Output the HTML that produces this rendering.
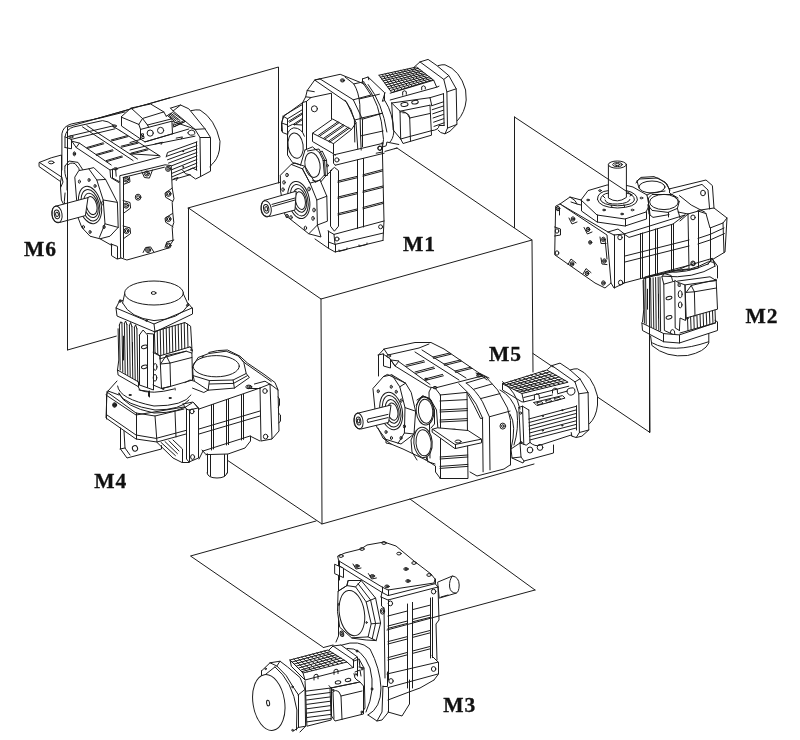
<!DOCTYPE html>
<html><head><meta charset="utf-8"><title>Mounting positions M1-M6</title>
<style>
html,body{margin:0;padding:0;background:#fff}
svg{display:block;will-change:transform}
svg path,svg ellipse{fill:none;stroke:#1c1c1c;stroke-width:1;stroke-linejoin:round;stroke-linecap:round}
svg .f{fill:#fff}
svg .w{fill:#fff;stroke:none}
svg text{font-family:"Liberation Serif","DejaVu Serif",serif;font-weight:bold;font-size:21.5px;letter-spacing:.9px;fill:#111;stroke:#111;stroke-width:.3px}
</style></head><body>
<svg width="800" height="740" viewBox="0 0 800 740">
<rect width="800" height="740" fill="#fff"/>
<g id="base">
<path d="M67.5 127L278.5 67L278.5 183M67.5 127L67.5 350L122 334.5M514.5 227.5L514.5 117M533 353.5L650 432.5L649 250M316 521L190.5 556L323.5 647.5M410 499L535 590M188 208L281 182M383 152L397 148L532 240L321 299L188.5 208L188.5 300M321 299L322 524L227 460M322 524L534 464M532 240L533 372"/>
</g>
<g id="m6">
<path class="w" d="M61.5 169L61.5 134.5L63.2 126.2L73 123.2L110.5 116.5L121 115L121 112.5L174.5 112.5L174.5 222.5L70 222.5L64 172Z"/>
<path class="w" d="M130 109.4L150.6 103.8L163.8 111.9L170.6 108.1L180.6 105L188.8 108.8L191.2 110.6L200 110L215 118.8L220 141.2L219.4 150L217.5 160L211.2 165L210 171.2L200.6 176.5L195.6 179L190 175L172.5 181.2L172.5 192.5L130 192.5Z"/>
<path class="w" d="M121 117L131 108L150.6 103.8L142.5 118.5L140.6 139L121 126Z"/>
<path d="M61.9 170 L61.9 133.8 Q63.1 126.2 71.2 124 L101.2 117.8 125 111.9M65 147.5 L65 136.9 Q66.2 128.8 73.8 126.9 L102.5 120.6 108.1 121.9 115 126.2M65 136.9L71.5 139.4L71.5 148.8L65 147.5M67.5 136.6L112.5 126L120 130.6M71.2 139.4L115 128.8M71.9 141.2L79.4 143.1L76.2 147.5L71.9 141.2M71.2 139.4L71.9 141.2M76.2 147.5L110 170L115.6 168.8L160 156.9M79.4 143.1L111.2 165M95.6 135.6L133.1 160.6M100 134.4L137.5 159M82.5 126.9L95.6 135.6M86.9 125.6L100 134.4M120 130.6L160 156M86.9 147.5L103.1 142.8M87.2 148.5L103.8 143.8M96.2 154.4L112.5 149.8M96.6 155.4L113.1 150.8M106.2 160.6L121.9 156M106.6 161.6L122.5 157M111.2 140L127.5 135.6M111.6 141L128.1 136.6M121.2 146.2L137.5 142.2M121.6 147.2L138.1 143.2M131.2 153.1L147.5 148.8M131.6 154.1L148.1 149.8"/>
<ellipse stroke-width="0.75" cx="71.2" cy="136.9" rx="1.8" ry="1"/>
<ellipse stroke-width="0.75" cx="114.4" cy="126" rx="2" ry="1.1"/>
<ellipse stroke-width="0.75" cx="115.6" cy="168.8" rx="2" ry="1.1"/>
<ellipse stroke-width="0.75" cx="74.4" cy="153.8" rx="1.2" ry="2"/>
<ellipse stroke-width="0.75" cx="74.4" cy="153.8" rx="0.6" ry="1"/>
<path d="M110 170L110.6 177.5L118.8 182.5M115.6 168.8L116.2 176.2M131 108L150.6 104L163.8 111.9L166.2 116.2M138.8 124.4L142.5 118.5L147.5 125M142.5 118.5L163.8 111.9M147.5 125L171.9 118.8M138.8 124.4L121 117L131 108L142.5 118.5M121.5 117L121.5 126L140.6 139M140.6 129.4L171.9 121.2L172.5 133.8L145 141.9L140.5 139L140.5 129.4M138.8 124.4L140.6 129.4M147.5 125L148.8 127.5"/>
<ellipse stroke-width="0.75" cx="150.2" cy="133.1" rx="3.1" ry="3.1"/>
<ellipse stroke-width="0.75" cx="160.6" cy="130.4" rx="3.1" ry="3.1"/>
<path d="M141.9 133.8L143.5 133.8L143.5 135.6L141.9 135.6ZM142.2 136.5L144 136.5L144 138.5L142.2 138.5ZM166.2 116.2L172.5 112.5L185 121.5L173.8 126.9L173.1 123.8M167.5 115.6L174.4 121.2M168.8 115L176 120.8M170 114.2L177.8 120.2M171.2 113.5L179.5 120M173.8 126.9L185 121.5M174 125L182.5 121.5M174.2 123.1L180 121M170 116.9L171.2 118.8M171.9 121.2L188.8 126.9L195 129.4M187.8 132.8 Q188.8 130 191.9 130 Q195.2 130.6 195 133.5 Q193.8 135.6 190.6 135.2 Q188.1 134.8 187.8 132.8M130 142.5L140.6 139.4M130 150L145 146.2L195 136.2M145 141.9L172.5 133.8M172.5 133.8L188.8 129M130 153.8L158.8 155.6M155 144L162.5 142.2L161.2 144.4M176.2 138.1L182.5 136.9L181.2 139M166.2 156.9L167.5 152.5L196.9 141.9M166.9 156.2L196.9 145.6M167.5 159.8L196.9 149M168.5 163.1L196.9 152.5M169.8 166.5L196.9 156M171 170L196.9 159.5M171.5 173.5L196.9 163.1M171.9 176.9L196.9 166.5M171.9 180L190 174.8M196.5 141.9L196.5 170M182.5 170L185.6 173.8L190 174.8M188.8 170L192.5 168.1L196.9 170"/>
<ellipse stroke-width="0.75" cx="183.1" cy="151.2" rx="0.5" ry="0.5"/>
<ellipse stroke-width="0.75" cx="183.1" cy="166.9" rx="0.5" ry="0.5"/>
<path d="M173.8 178.8L178.1 177.5L176.2 180.6M170.6 108.1L180.6 105L188.8 108.8L205 128.8L210.5 137.5L210.5 171.2L200.6 176.5L195.6 179L190 175M170.6 108.1L173.1 111L195 129.4L200 137.5L200.6 176.5M173.1 111L180.6 105M200 137.5L210 137.5M195 129.4L205 128.8M191.2 110.6 Q196.2 109.4 200 110 Q215 118.8 220 141.2 L219.4 150 Q217.5 160 211.2 165 L210 166.9M112.5 169L112.5 178L120 182"/>
<path class="f" d="M120.2 175.6L165 164.8L171.2 165.6L172.2 188.1L174 198.8L172.2 202.5L172.8 213.1L173.8 222.5L172.2 227.5L173 240.6L168.1 248.1L153.8 252.5L126.9 260L121 258Z"/>
<path d="M123.5 177.5L123.5 257.5M123.1 177.5L164.4 167.2"/>
<ellipse stroke-width="0.75" cx="126.2" cy="179.4" rx="2.5" ry="2.6"/>
<ellipse stroke-width="0.75" cx="126.2" cy="179.4" rx="1.2" ry="1.4"/>
<ellipse stroke-width="0.75" cx="126.2" cy="205.6" rx="2.5" ry="2.6"/>
<ellipse stroke-width="0.75" cx="126.2" cy="205.6" rx="1.2" ry="1.4"/>
<ellipse stroke-width="0.75" cx="126.5" cy="231" rx="2.5" ry="2.6"/>
<ellipse stroke-width="0.75" cx="126.5" cy="231" rx="1.2" ry="1.4"/>
<ellipse stroke-width="0.75" cx="146.9" cy="173.5" rx="2.5" ry="2.6"/>
<ellipse stroke-width="0.75" cx="146.9" cy="173.5" rx="1.2" ry="1.4"/>
<ellipse stroke-width="0.75" cx="168.1" cy="168.8" rx="2.5" ry="2.6"/>
<ellipse stroke-width="0.75" cx="168.1" cy="168.8" rx="1.2" ry="1.4"/>
<ellipse stroke-width="0.75" cx="168.5" cy="193.8" rx="2.5" ry="2.6"/>
<ellipse stroke-width="0.75" cx="168.5" cy="193.8" rx="1.2" ry="1.4"/>
<ellipse stroke-width="0.75" cx="168.5" cy="219" rx="2.5" ry="2.6"/>
<ellipse stroke-width="0.75" cx="168.5" cy="219" rx="1.2" ry="1.4"/>
<ellipse stroke-width="0.75" cx="168.5" cy="245.6" rx="2.5" ry="2.6"/>
<ellipse stroke-width="0.75" cx="168.5" cy="245.6" rx="1.2" ry="1.4"/>
<ellipse stroke-width="0.75" cx="148.1" cy="250" rx="2.5" ry="2.6"/>
<ellipse stroke-width="0.75" cx="148.1" cy="250" rx="1.2" ry="1.4"/>
<ellipse stroke-width="0.75" cx="138.1" cy="197.2" rx="2.8" ry="3"/>
<ellipse stroke-width="0.75" cx="138.1" cy="197.2" rx="1.4" ry="1.5"/>
<path d="M123.1 200.6L130 202.5L130.6 208.1L123.8 213.1M123.1 226L130 227.9L130.6 233.5L123.8 238.5M172.2 188.1L165 193.1L165.6 197.2L172.8 201.5M172.5 213.5L165 218.1L165.6 222.2L173.1 226.9M141.9 171.9L144.4 177.5L149.4 178.1L152.5 170M143.1 252.5L145.6 247.5L150.6 246.9L153.8 251.9M123.5 184.4L130 181.9L129.4 176.9M173.8 240L166.9 241.9L165 247.5"/>
<path class="f" d="M39.4 162.4L51.2 157.8L61.5 155L61.5 177.2L60.6 181.6L39.4 166.8Z"/>
<path d="M39.4 162.4L61.8 177.2"/>
<ellipse stroke-width="0.75" cx="51.2" cy="162.4" rx="2.8" ry="1.4"/>
<path d="M60.5 181.6L60.5 187.6L61.4 200L64 205M61.8 177.2L63 182L60.6 187.6M65 166L69 161L78 162.4L83 170M65 166 Q64 174 67 180 L67 190M68 165 Q70 162 75 163.6 Q80 168 80 173M65 193 Q63 202 66 210"/>
<path class="f" d="M75 176.8L78.8 170.6L88.8 168.8L93.8 167.6L105.6 179.4L117.4 202.4L118.2 227.4L110 236.2L100 238.8L90 236.2L81.8 227.4L78.2 218Z"/>
<path d="M88.8 168.8L96.8 180L103.2 200L105 223.8L99.4 237.4M96.8 180L105.6 179.4M103.2 200L117.4 202.4M105 223.8L118.2 227.4"/>
<ellipse cx="90" cy="205" rx="11" ry="19" transform="rotate(-14 90 205)"/>
<ellipse cx="90.4" cy="205.2" rx="9" ry="16" transform="rotate(-14 90.4 205.2)"/>
<ellipse cx="91" cy="205.4" rx="7" ry="12.4" transform="rotate(-14 91 205.4)"/>
<ellipse cx="91.6" cy="205.6" rx="5.2" ry="9.2" transform="rotate(-14 91.6 205.6)"/>
<path class="f" d="M55 206.4 L88 197.6 L85.4 215.6 L60 222.4 Q52 223 52 214.4 Q52 207 55 206.4Z"/>
<ellipse cx="57" cy="214.4" rx="5" ry="8.4" transform="rotate(-10 57 214.4)"/>
<ellipse cx="57" cy="214.4" rx="2.6" ry="4.4" transform="rotate(-10 57 214.4)"/>
<ellipse stroke-width="0.75" cx="57" cy="214.4" rx="1.4" ry="2.2" transform="rotate(-10 57 214.4)"/>
<ellipse stroke-width="0.75" cx="79.4" cy="181.6" rx="1" ry="1.6"/>
<ellipse stroke-width="0.75" cx="89" cy="180" rx="1" ry="1.6"/>
<ellipse stroke-width="0.75" cx="95" cy="186" rx="1" ry="1.6"/>
<ellipse stroke-width="0.75" cx="102.6" cy="203" rx="1" ry="1.8"/>
<ellipse stroke-width="0.75" cx="104" cy="227" rx="1" ry="1.8"/>
<ellipse stroke-width="0.75" cx="90" cy="232" rx="1" ry="1.6"/>
<ellipse stroke-width="0.75" cx="83.4" cy="227" rx="1" ry="1.6"/>
<path d="M100 238.8L112 245.6M111 244L117.5 246.4L117.5 259L121 258M111.5 244L111.5 255.6L117 259"/>
</g>
<g id="m1">
<path class="w" d="M281.5 131L281.5 122.7L284 116L302.7 102.5L305.7 96.8L307.2 90.5L314.7 80L340.2 74.3L363.5 83.7L371 94.5L394.5 94.5L394.5 175.5L281 175.5Z"/>
<path class="w" d="M355 80.5L363.2 79L368.5 76.7L379 75.2L416.5 67L415 66.2L428.5 59.5L436.7 64.5L451 64.5L466.7 97L466 106L458.5 121L454.7 125.5L445 133L439 130L431.5 135.2L403 143.5L391 142.7L383.5 151L355 157Z"/>
<path class="w" d="M280.6 176L290 164.4L303 166L315 150L383 142L384 233L383 240.4L335 252.4L328 248.4L315 239.6L302 231.6L285 218.4Z"/>
<path d="M281.5 131L281.5 122.7L284 116L302.7 102.5L305.7 96.8L307.2 90.5L314.7 80L340.2 74.3L363.5 83.7L371 95M315.2 80.4L346.7 102.2L356 122.7L357.8 149M320 78.9L353.3 99.8L362.5 119.3L362.5 146.7M314.7 80L320 78.9M353.3 99.8L371 95M362 119.3L382.2 113.3"/>
<ellipse stroke-width="0.75" cx="342.5" cy="80.4" rx="2.1" ry="1.6"/>
<ellipse stroke-width="0.75" cx="342.5" cy="80.4" rx="1" ry="0.7"/>
<path d="M302.5 102.5L302.5 131.7M306.5 101.4L306.5 149M302.7 102.5L306.5 101.4L311 97.5L331.5 93.2L331.5 119M305.7 96.8L311 97.5M307.2 90.5L314.3 91.7"/>
<ellipse stroke-width="0.75" cx="314.4" cy="108.8" rx="3" ry="3"/>
<path d="M312.5 133.2L332.7 119L351.5 129.5L333.5 143.7L312.5 133.2L312.5 141.5L333.5 153.8L333.5 143.7M351.5 129.5L356 122.7M318.5 135.2L338 121.7M319.7 136.1L339.2 122.6M323.7 138.2L343.2 124.7M324.9 139.1L344.4 125.6M328.5 141.2L348 127.4M329.7 142.1L349.2 128.3M333.5 153.8L335.3 155.3M283.8 115.6L301.9 104.8M283.1 116.2L281.9 123.1L282.5 132.5L287.5 134.4L287.5 125L281.9 123.1M283.1 116.2L287.5 118.8L287.5 125M287.5 118.8L301.9 110M288.8 121.2L301.9 113.1M289.5 122.2L301.9 114.4M293.8 124L301.9 118.8M294.5 125L301.9 120M287.5 126.9L292.5 124.4L301.9 125M287.5 134.4L287.5 155L292.5 162.5L300.6 165M287.5 135 Q288.1 129.4 293.8 127.8 Q301.9 128.1 304.4 136.2"/>
<ellipse class="f" cx="295.6" cy="145.6" rx="7.5" ry="12.8" transform="rotate(-8 295.6 145.6)"/>
<path d="M305 150 L312.5 146.9 L319.4 152.5 L323.1 160 L324.4 175 L318.1 181.9 L312.5 180.2M319.4 152.5L322.2 151L326.5 160L327.5 175.5L324.4 175.5M323.1 160.5L326.5 160.5M300.6 165L305 150"/>
<ellipse class="f" cx="312.5" cy="165" rx="7.5" ry="12.5" transform="rotate(-10 312.5 165)"/>
<path d="M318.1 181.9L320 186.2"/>
<ellipse stroke-width="0.75" cx="327.5" cy="165.6" rx="0.9" ry="1.2"/>
<path d="M333.2 155L383 143.3M335.3 165.2L384.2 153.2M333.5 155L333.5 163.2L335.3 165.2"/>
<ellipse stroke-width="0.75" cx="336.9" cy="159.9" rx="2.1" ry="2.1"/>
<ellipse stroke-width="0.75" cx="380" cy="148.4" rx="2.1" ry="2.1"/>
<path d="M345 77 L353.8 83.9 Q358.8 92 359.8 104.5 L360.6 137 L361.2 150.1M353.8 83.9L363.8 81.8M359.4 98.9L379.4 94.2M360.6 118.2L382.5 113.2M361.2 135.8L383.1 131M345 100.1 Q352.5 109.5 354.4 120.1 L354.8 142M354.4 120.1L360.6 118.5M363.8 82 Q381.2 102 383.5 139.5 L382.5 147M368.1 84.5 Q382.5 103.2 386.9 132M385 100.8 Q393.1 113.2 393.8 132 Q393.1 139.5 389.4 142.6M362.5 78.9L368.1 77L384.5 92.6L384.5 100.8L382.5 101M362.5 78.9L362.5 82.6L363.8 84.5M368.1 77L368.8 79.8M382.5 101L385 92.6M382.5 147L386.2 145.8L386.9 142L389.4 142.6L398.8 144.5M382.5 147L382.5 152L376.2 153.2"/>
<ellipse stroke-width="0.75" cx="379.8" cy="148" rx="2" ry="2.1"/>
<path d="M379 75.2L416.5 67L433 79.7L391.7 92.5L379 75.2M390.2 93.2L433.7 80.2M390.2 100L436.7 87.2L439 86.2M433.7 80.2L436.7 87.2M380.3 77.2L418.3 68.3M381.8 79.1L420.1 69.8M383.2 80.9L422 71.2M384.7 82.9L423.8 72.7M386 84.8L425.6 74M387.5 86.8L427.4 75.5M388.9 88.6L429.4 76.9M390.4 90.5L431.2 78.4M382.1 74.5L395.2 91.4M385.3 73.9L398.6 90.4M388.3 73.1L402.1 89.3M391.4 72.5L405.5 88.3M394.6 71.8L409 87.2M397.7 71.2L412.3 86.2M400.9 70.4L415.7 85M404 69.7L419.2 83.9M407.2 69.1L422.6 82.9M410.2 68.3L426.1 81.8M413.3 67.7L429.5 80.8M402.7 95.2 L402.7 91.7 Q404.5 89.8 406.3 91.7 L406.3 94.3M421.7 89.8 L421.7 86.8 Q423.5 84.7 425.3 86.8 L425.3 88.9M391.7 103L430 97.7L431.8 105.7M391.7 103L400 111.2L430 105.2M400 111.2L400.7 139L403 143.5L431.5 135.2L430 105.2M391.7 103L393.2 130L400.7 139M402.7 112.7 Q409 112 409.7 118 L410.5 141.2M400 112 Q406 109.7 409.7 118M409.7 118L430 113.5M400.7 139L409 136.7L431.5 130.7"/>
<ellipse cx="404.5" cy="104.5" rx="3.6" ry="1.9" transform="rotate(-8 404.5 104.5)"/>
<ellipse cx="415" cy="102.2" rx="3.3" ry="1.8" transform="rotate(-8 415 102.2)"/>
<path d="M430 97.7L443.5 93.7M431.8 105.7L443.5 101.8M432.2 109.7L443.5 106M432.7 113.8L443.5 110.2M433.1 118L443.5 114.4M433.6 122.2L443.8 118.6M434 126.4L444.1 122.8M431.5 130.7 Q439 130 439 125.5 L444.1 125.5M443.5 93.7L444.1 125.5M414.4 66.9L420 61.9L428.1 59.4L436.9 65.6L448.8 75.6L456.2 88.8L456.9 124.4L450 131.2L445 133.8L440.6 132.5L438.1 130M420 61.9L443.8 79.4L446.9 91.9L447.5 128.1L445 133.8M443.8 79.4L448.8 75.6M446.9 91.9L456.2 88.8M447.5 128.1L456.9 124.4M438.1 65.6 Q442.5 64.4 445 64.8 Q460 70 465.6 90 L466.2 100 Q465 112.5 457.5 120.6M307.4 151L319 149L324.6 160L325.4 176.4L319.4 183.6L315 182.4M325.4 176.4L332 170M330.6 170.6L334.4 167.4L338.5 170.6L338.5 226.2L334.4 231.2L330.5 226.2L330.5 170.6M357.5 160L357.5 228.4M363.5 158.4L363.5 227M382.2 142.4L384 221L383 240.4M338 181L357 176.4M338 182.4L357 177.8M338 197L357 192.4M338 198.4L357 193.8M338 213.6L357 209M338 215L357 210.4M363 174.8L382.6 169.6M363 176.2L382.6 171M363 191L383 186M363 192.4L383 187.4M363 207.4L383.4 202M363 208.8L383.4 203.4M328 231L334 234.4L384 221M328.5 231L328.5 242L335 244.4L383.4 233M334 234.4L335 244.4"/>
<ellipse stroke-width="0.75" cx="337" cy="239" rx="2" ry="2"/>
<ellipse stroke-width="0.75" cx="380.6" cy="226.8" rx="2" ry="2"/>
<path d="M315 239L328 248L335 252L383 240.4M328.5 242L328.5 248M335.5 244.4L335.5 252M339 250L339 251.4L347 249.4L347 248M359 245L359 246.4L367 244.4L367 243"/>
<path class="f" d="M280.6 175L291.2 164.4L302.4 168.8L310 183.2L320 180L326.8 196.2L327.4 221.2L317.4 225L321 237L308.8 233.8L285 215L280.6 191.2Z"/>
<path d="M302.4 168.8L310 183.2L316.8 200L317.4 225L308.8 233.8M316.8 200L326.8 196.2M291.2 164.4L295 163L305 166.4L315 182.4L320 180M302.4 168.8L305 166.4"/>
<ellipse cx="298.8" cy="200" rx="10.6" ry="18.8" transform="rotate(-12 298.8 200)"/>
<ellipse cx="299.2" cy="200.2" rx="8.6" ry="16" transform="rotate(-12 299.2 200.2)"/>
<ellipse cx="299.8" cy="200.4" rx="6.6" ry="12" transform="rotate(-12 299.8 200.4)"/>
<ellipse cx="300.4" cy="200.6" rx="4.8" ry="9" transform="rotate(-12 300.4 200.6)"/>
<path class="f" d="M264.4 200.4 L296.2 191.2 L295 210 L271.2 216.2 Q261 218 261 208.8 Q261.4 201.2 264.4 200.4Z"/>
<ellipse cx="266.2" cy="208.8" rx="5" ry="8.2" transform="rotate(-10 266.2 208.8)"/>
<ellipse cx="266.2" cy="208.8" rx="2.6" ry="4.4" transform="rotate(-10 266.2 208.8)"/>
<ellipse stroke-width="0.75" cx="266.2" cy="208.8" rx="1.4" ry="2.2" transform="rotate(-10 266.2 208.8)"/>
<path d="M272 204.4L295 198M272.6 206.4L295 200"/>
<ellipse stroke-width="0.75" cx="287" cy="175" rx="1.2" ry="1.8"/>
<ellipse stroke-width="0.75" cx="284" cy="182.4" rx="1.2" ry="1.8"/>
<ellipse stroke-width="0.75" cx="283" cy="189.6" rx="1.2" ry="1.8"/>
<ellipse stroke-width="0.75" cx="309" cy="189" rx="1.2" ry="2"/>
<ellipse stroke-width="0.75" cx="314" cy="210" rx="1.2" ry="2"/>
<ellipse stroke-width="0.75" cx="313" cy="218.4" rx="1.2" ry="2"/>
<ellipse stroke-width="0.75" cx="305.4" cy="228" rx="1.2" ry="1.8"/>
<ellipse stroke-width="0.75" cx="291" cy="217.4" rx="1.2" ry="1.8"/>
<ellipse stroke-width="0.75" cx="287" cy="216" rx="1.2" ry="1.8"/>
</g>
<g id="m2">
<path class="w" d="M555 255L556 206L560 204L570 197L581 200L588 190.6L607 185L608.4 164.6L613 161.5L622 161.5L626.4 164.6L627 185L637 181L641 177.4L654 176.6L665 182L705.5 171L705.5 303.5L643.5 303.5L643.5 278L614 288.5L605 288.5Z"/>
<path class="w" d="M642 272L712 258L718.5 266L718.5 334L708 340L706 350L694 356.4L670 362L653 350L651 341L642 334Z"/>
<path class="f" d="M608.4 164.6 L608.4 198 Q617.4 204 626.4 197.4 L626.4 164.6Z"/>
<ellipse class="f" cx="617.4" cy="164.6" rx="9" ry="3.6"/>
<ellipse cx="617.4" cy="164.6" rx="4.8" ry="2"/>
<ellipse stroke-width="0.75" cx="617.4" cy="164.6" rx="2.4" ry="1"/>
<path d="M597.4 199.4 Q597.4 191.4 608.4 190.6M626.4 190.6 Q637.4 193 637.4 200 Q636 207.4 617.4 208 Q599 207.4 597.4 199.4M600.4 199.8 Q601 194 608.4 193M626.4 193 Q634.4 194.6 634.4 200 Q633 205.4 617.4 205.8 Q602 205 600.4 199.8M605 200 Q606 204.6 617.4 204 Q629 203.4 630 199.4M603 196L605 198M630 196L632 194.6M611 205L612 207M624 204.6L624.6 206.6M581 200L588 190.6L607 185L608.4 185M626.4 185.4L633 187L647 195L649 206L646 212L625 219L597 215L581 200M581.5 200L581.5 211L597 222L625 226L646.5 219L646.5 212M597.5 215L597.5 222M625.5 219L625.5 226"/>
<ellipse stroke-width="0.75" cx="588" cy="200" rx="1.4" ry="0.8"/>
<ellipse stroke-width="0.75" cx="600" cy="190.6" rx="1.4" ry="0.8"/>
<ellipse stroke-width="0.75" cx="604" cy="210" rx="1.4" ry="0.8"/>
<ellipse stroke-width="0.75" cx="622" cy="214" rx="1.4" ry="0.8"/>
<ellipse stroke-width="0.75" cx="632.4" cy="210" rx="1.4" ry="0.8"/>
<ellipse stroke-width="0.75" cx="641.4" cy="198" rx="1.4" ry="0.8"/>
<ellipse cx="652" cy="187" rx="13" ry="6"/>
<path d="M637 181L641 177.4L654 176.6L665 182L670 190M637 181L639 188"/>
<ellipse cx="664" cy="202" rx="14.4" ry="7.6"/>
<path d="M647 195L651 193L665 191M649 206L650 215L653 217.4L669 214.6M560 204L570 197L581 200M570 197L575 200.6L577 204M571 202L577 204L581 205M560 204L608 232"/>
<path class="f" d="M556 206L560 204L607 235L611 283L605 288L595 283L555 255Z"/>
<path d="M559.5 208.6L559.5 215M605 239L607 259"/>
<ellipse stroke-width="0.75" cx="558" cy="208.6" rx="1.8" ry="2.2"/>
<ellipse stroke-width="0.75" cx="573" cy="219" rx="1.8" ry="2.2"/>
<ellipse stroke-width="0.75" cx="588" cy="229.4" rx="1.8" ry="2.2"/>
<ellipse stroke-width="0.75" cx="603.4" cy="239.4" rx="1.8" ry="2.2"/>
<ellipse stroke-width="0.75" cx="557" cy="231" rx="1.8" ry="2.2"/>
<ellipse stroke-width="0.75" cx="557" cy="253" rx="1.8" ry="2.2"/>
<ellipse stroke-width="0.75" cx="572" cy="264" rx="1.8" ry="2.2"/>
<ellipse stroke-width="0.75" cx="587" cy="273.4" rx="1.8" ry="2.2"/>
<ellipse stroke-width="0.75" cx="603.4" cy="283" rx="1.8" ry="2.2"/>
<ellipse stroke-width="0.75" cx="604.4" cy="261" rx="1.8" ry="2.2"/>
<ellipse stroke-width="0.75" cx="558" cy="208.6" rx="0.8" ry="1"/>
<ellipse stroke-width="0.75" cx="573" cy="219" rx="0.8" ry="1"/>
<ellipse stroke-width="0.75" cx="588" cy="229.4" rx="0.8" ry="1"/>
<ellipse stroke-width="0.75" cx="603.4" cy="239.4" rx="0.8" ry="1"/>
<ellipse stroke-width="0.75" cx="572" cy="264" rx="0.8" ry="1"/>
<ellipse stroke-width="0.75" cx="587" cy="273.4" rx="0.8" ry="1"/>
<ellipse stroke-width="0.75" cx="603.4" cy="283" rx="0.8" ry="1"/>
<ellipse stroke-width="0.75" cx="604.4" cy="261" rx="0.8" ry="1"/>
<ellipse stroke-width="0.75" cx="590.2" cy="242.4" rx="1.6" ry="1.8"/>
<ellipse stroke-width="0.75" cx="590.2" cy="242.4" rx="0.8" ry="1"/>
<path d="M569 218L572 224L577 222M584 227.4L587.4 234L592 232M600 237L601 243.5L606 243.5M601 258L602 264L607 264.6M568 264.6L571 259L576 263M583 274L586 268.6L591 272.6M554.6 227L560.5 229L560.5 235L554.6 236M608 232L618 229L624.5 234L624.5 283L614 288L611 283M614.5 235L614.5 288M614 235L624 234M608 232L614 235"/>
<ellipse stroke-width="0.75" cx="620" cy="237.4" rx="2.2" ry="2.4"/>
<ellipse stroke-width="0.75" cx="620.6" cy="282.6" rx="2.2" ry="2.4"/>
<path d="M624 234L685 215M624 234L629 237.4L673 224L685 215M625 256L689 240M625 262L689 246M640.5 233.4L640.5 278.6M642.5 233L642.5 278M655.5 229L655.5 274.6M657.5 228.6L657.5 274.2M671.5 224.6L671.5 270.6M673.5 224L673.5 270.2M624 283L643 278L673 270.6L688 269M648.5 205L648.5 198L652 194.5L672.4 194.5L679.4 201L677.4 208.4L668 212.4L652 210.4L648 205M648 205L649 214M668.5 212.4L668.5 217M677.4 208.4L680 218M636 183L639 179L658 178L667 184L669 189M669 189L706 180L712.4 185.6L714 208M673 193L702 184.4L708 190L709.6 209M669.5 189L669.5 193L678 198"/>
<ellipse stroke-width="0.75" cx="703" cy="193" rx="2.4" ry="2.8"/>
<path d="M698 210.4L714 208L727 218L725 252L710 261L708 264.4M706 213.6L710 228L723 223L727 218M710.5 228L710.5 261M723 223L724 252.4M698 238.4L710 234.4L724 228M698 244L710 240L724.4 233.6M688 214L698.5 211L698.5 268L689 270L688 214"/>
<ellipse stroke-width="0.75" cx="693" cy="217.4" rx="2.2" ry="2.4"/>
<ellipse stroke-width="0.75" cx="693" cy="263.4" rx="2.2" ry="2.4"/>
<path d="M680 221L688 214M678 212L688 214M698 211L706 213.6M645 277 L688 265.6 L712 258.4M649 276 Q668 275 688 265.6M666 272 Q686 274 708 264M708 264L712 258.4L717.5 266L717.5 278M712 258.4L715 264"/>
<ellipse stroke-width="0.75" cx="693.4" cy="263.6" rx="1.8" ry="1.8"/>
<path d="M643.1 280.5L643.8 309.2L642.5 321.8M643.8 278.6L644.4 323M645.6 278.2L646.2 324.2M650.6 278L651.2 326.8M653.1 277.8L653.8 328M655.6 277.5L656.2 329.2M658.1 277.2L658.8 330.5M660 277L660.6 331.1M643.8 278.6L653.1 276.1L663.8 273.6M658.5 294.2L658.5 318M647.5 289.2L647.5 309.2M661.9 276.8L664.4 273.6L671.2 275.5L672.5 280.5M661.9 276.8L663.8 284.2L664.4 330.5L672.5 334.2M674.8 281.1L675.2 328L679.4 330.5M663.8 284.2L674.8 281.1"/>
<ellipse stroke-width="0.75" cx="669" cy="298" rx="3" ry="1.6" transform="rotate(-15 669 298)"/>
<ellipse stroke-width="0.75" cx="669" cy="317.4" rx="3" ry="1.6" transform="rotate(-15 669 317.4)"/>
<path d="M670.2 333 Q670.6 329.2 672.8 329.5 Q675 329.9 674.8 333.6M675 280.5L678.1 282.4L685 284.9L685.6 320.5L680 318L679.4 330.5"/>
<ellipse cx="680.2" cy="294.2" rx="2" ry="3.6"/>
<ellipse stroke-width="0.75" cx="680.2" cy="304.9" rx="1.8" ry="3"/>
<path d="M678.1 284L678.1 286.1L680.2 286.5L680.2 284.5ZM677.5 281.1L710 276.8L716.2 280.5L717.5 309.2L686.2 318L685 284.9L716.2 280.5M686.2 292.4L691.2 285.5L694.4 291.8L686.2 292.4M694.4 291.8L695 316.1M694.4 291.8L716.5 288M691.2 285.5L710 281.1L716.2 280.5"/>
<ellipse stroke-width="0.75" cx="715.6" cy="279.9" rx="0.6" ry="0.6"/>
<ellipse stroke-width="0.75" cx="687.2" cy="318.6" rx="0.8" ry="0.8"/>
<path d="M680 333L715 323M687.5 317.8L688 330.8M690.6 316.9L691.1 329.9M693.8 316L694.2 329M696.9 315.1L697.4 328.1M700 314.2L700.5 327.2M703.1 313.4L703.6 326.4M706.2 312.5L706.8 325.5M709.4 311.6L709.9 324.6M712.5 310.8L713 323.8M715 310L715.5 323M641.9 323L642.5 330.5L663.8 341.8L679.4 343L717.5 330.5L717.5 321.8L715 320.5M641.9 323L663.8 333.6L679.4 334.9L715 323M663.5 333.6L663.5 341.8M679.5 334.9L679.5 343M650.6 336.1 L651.9 345.5 Q666.2 358 687.5 355.5 Q705 351.8 708.8 343 L708.8 333.6M652.5 343 Q672.5 354.2 708.5 341.8M679.4 195.6L691.2 205L705 212.2M672.5 271.2 Q691.2 271.2 708.1 261.9M662.5 276.2 Q693.8 279.4 715 266.2M708.8 261.2L713.8 262.5L715 266.2"/>
</g>
<g id="m4">
<path class="w" d="M116 308L120 300L125 294L127 286L140 281.4L154 280.6L170 282L182 287L188 303L192 308L193 355L209 352L224 350L238 353L260.5 369L260.5 423.5L106.5 423.5L106.5 395L117.5 381L117.5 370Z"/>
<path class="w" d="M106.5 392L106.5 418L120.5 428L120.5 449L127 458L161 449L173 458L182 462.5L189 462.5L198 458L255.5 442L255.5 370.5L115 370.5Z"/>
<path class="w" d="M199 409L270 383L279.5 390L279.5 431L272 439L260 441.5L250 441.5L245 448L227.5 454L227.5 473L217 478L207.5 473L207.5 454L199 459Z"/>
<ellipse cx="154" cy="293" rx="29.4" ry="12"/>
<ellipse stroke-width="0.75" cx="153.6" cy="293" rx="2.4" ry="1.4"/>
<path d="M124.6 294L122.6 303M183.4 294L188.4 305M122.6 303 Q130 318 154 320.6 Q180 319.4 188.4 305M120 300L116 308L154 324L192 308L188 303M116 308L117 316L155 332L192.5 314L192.5 308M154 324L155 332M120 300L122.6 300.6"/>
<ellipse stroke-width="0.75" cx="120" cy="301.4" rx="1" ry="1"/>
<ellipse stroke-width="0.75" cx="187.4" cy="305.4" rx="1" ry="1"/>
<ellipse stroke-width="0.75" cx="146.4" cy="320.6" rx="0.8" ry="0.8"/>
<path d="M118.1 328.8L118.8 360L117.5 370M119.4 325L120.2 370M121.9 322.5L122.8 371.9M124.4 323.5L125.2 373.5M126.9 324.5L127.8 375M129.4 325.5L130.2 376.5M131.9 326.5L132.8 378.1M134.4 327.5L135.2 379.8M136.9 328.8L137.8 381.5M119.4 325L120.6 321.9L121.9 322.5M124.4 323.5L125.6 321L126.9 324.5M129.4 325.5L130.6 322.5L131.9 326.5M134.4 327.5L135.6 324.8L136.9 328.8M123.5 336.2L123.5 360M132.5 342.5L132.5 365M117.5 370L118.1 375L138.1 386.5L140 390.2L147.5 391.2M117.5 370L138.5 381.9L138.5 386.5M139.4 335L143.1 330L147.5 335L147.5 387.8L139.5 385L139.5 335M138.1 381.9L139.4 385"/>
<ellipse stroke-width="0.75" cx="144.4" cy="346.9" rx="3" ry="1.6" transform="rotate(-15 144.4 346.9)"/>
<ellipse stroke-width="0.75" cx="144.4" cy="366.9" rx="3" ry="1.6" transform="rotate(-15 144.4 366.9)"/>
<path d="M147.5 333.5L153.5 334L153.5 390L147.5 387.8M153.1 352.5L160 356L161.5 388.5L153.1 385"/>
<ellipse cx="155.2" cy="366.9" rx="1.8" ry="3.4"/>
<ellipse cx="155" cy="377.8" rx="1.8" ry="3.4"/>
<path d="M154.4 331.5L185 322.5L190.6 326.2L191.9 348.1M155 352.5L160 355.8L190 346.9L191.9 348.1M154.4 331.5L155 352.5M157.2 330.8L157.8 353.8M160.2 329.8L160.8 355.2M163.2 328.9L163.8 354.5M166.2 328L166.8 353.6M169.2 327.1L169.8 352.8M172.2 326.2L172.8 351.9M175.2 325.4L175.8 351M178.2 324.5L178.8 350.1M181.2 323.6L181.8 349.2M184.2 322.8L184.8 348.4M187.5 324.1L188 347.5M160 358.8L186.2 351.2L191.9 353.1L192.5 380L170 386.5L161.9 388.5M160 355.8L160 358.8M190 346.9L192.5 350L191.9 353.1M160.6 364L166.2 355.6L170 363.1L160.6 364M170 363.1L170.6 386.2M170 363.1L191.9 357.5M166.2 355.6L186.2 351.2M161.5 388.5L170 386.5"/>
<ellipse stroke-width="0.75" cx="191.2" cy="350" rx="0.6" ry="0.6"/>
<ellipse stroke-width="0.75" cx="163.1" cy="389" rx="0.6" ry="0.6"/>
<path d="M148.5 391.2L148.5 396.2M175 388.1L175.2 390M117.6 386 Q119 399 154 406 Q184 406 191 395M119 393 Q124 407 154 413 Q180 413 192 403M139 390 Q152 395 174 389M149.5 391L149.5 397"/>
<ellipse stroke-width="0.75" cx="130" cy="395" rx="1.2" ry="0.6"/>
<ellipse stroke-width="0.75" cx="170" cy="398" rx="1.2" ry="0.6"/>
<path d="M117 381L108 391L106.5 395L106.5 419M106 395L136 415L184 407M108 391L119 395"/>
<ellipse stroke-width="0.75" cx="115" cy="405" rx="1.6" ry="2"/>
<ellipse stroke-width="0.75" cx="115" cy="405" rx="0.8" ry="1"/>
<ellipse cx="216.2" cy="366.2" rx="23.1" ry="10.6"/>
<path d="M192.5 366.9L198.1 357.5L208.8 353.5L226.2 351.2L238.8 356.2L243.8 362.5L246.2 373.5M192.5 366.9L193.1 375.6L209.4 380.6L233.1 380L246.2 373.5L249.4 377.5L234.4 388.1L208.1 390.2L194.4 381.2L193.1 375.6M209.4 380.6L208.1 390.2M233.1 380L234.4 388.1M209.4 384L233.5 383.4L247.5 375.6M194.4 381.2L190 380L185 382.5M208.1 390.2L203.8 392.5L192.5 388.1M208.8 352.5L217.5 350.6L227.5 350L240 356.2L247.5 363.1L265 375L275 382.5L278.1 390M238.8 356.9L245 363.1L261.2 374.4L271.2 381.5"/>
<ellipse stroke-width="0.75" cx="248.8" cy="386.9" rx="3" ry="1.8"/>
<ellipse stroke-width="0.75" cx="248.8" cy="386.9" rx="1.5" ry="0.9"/>
<path d="M254.4 384L265 381.2L271.2 385"/>
<ellipse stroke-width="0.75" cx="202.5" cy="356.9" rx="0.6" ry="0.6"/>
<path d="M107 392L136 413L155 416L184 409M107 392L106 418L136 439L157 442L186 434M107 415L136 435L156 438.4L186 430.4M136.5 413L136.5 439M155 416L157 442M175 411.6L176 437"/>
<ellipse stroke-width="0.75" cx="114.4" cy="405" rx="1.8" ry="2.2"/>
<ellipse stroke-width="0.75" cx="114.4" cy="405" rx="0.8" ry="1"/>
<path d="M118.6 393.6 Q125 405 155 410 Q181 410 189 400M120.5 428L120.5 449L127 458L161.5 449L161.5 445.6M124 431L125 448L130 455M125 448L120 449"/>
<ellipse stroke-width="0.75" cx="135" cy="448.4" rx="2.6" ry="2.8" transform="rotate(-20 135 448.4)"/>
<path d="M157 442.4L173 458L182 462.5L189 462.5M161 442.4L175.4 455.6M165 441.6L177.4 453.6M169 440.8L179 451M173 440L182.5 449L182.5 462.4M183 404L193 402L198.5 408L198.5 458L189 462L186.5 459L186.5 409L183 404M189.5 410L189.5 462M186 409L189 410L198 408"/>
<ellipse stroke-width="0.75" cx="192" cy="411.4" rx="2" ry="2.4"/>
<ellipse stroke-width="0.75" cx="192.6" cy="457" rx="2" ry="2.4"/>
<path d="M199 409L260 388M199 429L260 411M199 434L260 416M211.5 405L211.5 450M213.5 404.4L213.5 449M226.5 400L226.5 445M228.5 399.4L228.5 444.6M241.5 395L241.5 440M243.5 394.4L243.5 439.4M260 388L270 384L272 439L261 441L260 388"/>
<ellipse stroke-width="0.75" cx="265" cy="391" rx="2.2" ry="2.4"/>
<ellipse stroke-width="0.75" cx="265.6" cy="436.6" rx="2.2" ry="2.4"/>
<path d="M270 384L278 390L279 431L272 439M278 397L279.5 399L279.5 405L278.4 407M278.4 413L280.5 415L280.5 421L278.8 423M248 388.5L260 388.5M194 403L199 409M199 459L203 451L250 436L260 441M202 450L206 454.6L228 454L245 448L250.5 441L250.5 436M206 454.6L207 454M207.5 454L207.5 473M227.5 454.6L227.5 473M207 473 Q208 478 217 478 Q226 478 227 473M210.5 454.6L210.5 476M224.5 454.6L224.5 476"/>
</g>
<g id="m5">
<path class="w" d="M378 355L384 349L415 342.5L431 342.5L444 349L479 373L495.5 380L495.5 471L468.6 478.5L440 478.5L435.5 472L435.5 466L426 460L403 449L391 444L383 438L378 428L374 390L378 380Z"/>
<path class="w" d="M450 353L476 373L486 377L502.4 381.6L549 370L559 364L570 369L582 368L599 400L598 409L588.5 424L588.5 429L580 437L573 438L553.5 445L553.5 453L524 461L523 463L512 458L510 465L504 469L477 476L470 472L450 473Z"/>
<path d="M378.5 376L378.5 355L384 349L415 342.5L431 342.5L444 349L479 373L489 378M383 354L390.5 359L390.5 368L383.5 366L383.5 354M378 355L383 354M388 355L419 348L429 344M391 360L399 361L395 366L391 360M395 366L429 387L435 388L482 376M390 359L395 366M415 352L459 380M422 350L466 378M384 349L388 355M406 365L423.8 360.6M406.6 366.4L424.6 362M415 372L433.8 367M415.6 373.4L434.6 368.4M425 379L442.6 374.4M425.6 380.4L443.4 375.8M398.2 361.2L430 384.4M433 357L449.8 353M433.6 358.4L451 354.2M444 364L460.2 360M444.6 365.4L461.4 361.2M455 371L470.6 367.2M455.6 372.4L471.8 368.4"/>
<ellipse stroke-width="0.75" cx="388.6" cy="356" rx="2" ry="1.2"/>
<ellipse stroke-width="0.75" cx="435" cy="387.6" rx="2" ry="1.2"/>
<ellipse stroke-width="0.75" cx="479" cy="375.6" rx="2.4" ry="1.4"/>
<ellipse stroke-width="0.75" cx="426" cy="379" rx="1.4" ry="0.8"/>
<path d="M431 388L429 392L430 458M435 388L440.5 395L440.5 478M440 395L467 392.4L468 478.5L440 478.5M440 401L467 399.6M440 410L467.4 408.6M440 412L467.4 410.6M440 420L467.4 418.6M440 422L467.4 420.6M440 430L455 429.2M440 457L467.8 455M440 459L467.8 457M440 466.4L467.8 464.4M440 468.4L467.8 466.4M482 376L487 380"/>
<path class="f" d="M432.5 429.2L437.5 427.8L468.1 430.5L481.5 439.2L481.5 442.8L455 448.6L432.5 432.4Z"/>
<path d="M432.5 429.2L455 444.5L481.2 439.2M455.5 444.5L455.5 448.6"/>
<ellipse stroke-width="0.75" cx="458.1" cy="441.5" rx="3" ry="1.5"/>
<ellipse class="f" cx="425" cy="411" rx="8.8" ry="14" transform="rotate(-5 425 411)"/>
<ellipse cx="425.6" cy="411.2" rx="7.2" ry="12" transform="rotate(-5 425.6 411.2)"/>
<ellipse class="f" cx="423" cy="442.4" rx="9.2" ry="15.2" transform="rotate(-5 423 442.4)"/>
<ellipse cx="423.6" cy="442.8" rx="7.6" ry="13" transform="rotate(-5 423.6 442.8)"/>
<path d="M417 400L423 396L431 400L434.5 410L434.5 424L431 428M415 431L411 440L412 452L417 460M416.2 405L422.5 395.9L430 398.5L436.5 410L437.8 427.5M422.5 395.9L420 398.8"/>
<path class="f" d="M373.2 388.2L383.4 376.6L391.8 374.8L405.6 383.2L411.2 392.4L415.6 411.2L414 434L401 444L386 439.4L377 427.4Z"/>
<path d="M391.8 374.8L399.8 386.8L405 407.6L404.4 433L398 443.4M399.8 386.8L405.6 383.2M405 407.6L415.6 411.2M404.4 433L414 434M383.4 376.6L387.4 374.4L405.6 383.2"/>
<ellipse cx="391.2" cy="411" rx="11" ry="19" transform="rotate(-12 391.2 411)"/>
<ellipse cx="391.6" cy="411.2" rx="9" ry="16" transform="rotate(-12 391.6 411.2)"/>
<ellipse cx="392.2" cy="411.4" rx="6.8" ry="12" transform="rotate(-12 392.2 411.4)"/>
<ellipse cx="392.8" cy="411.6" rx="5" ry="8.8" transform="rotate(-12 392.8 411.6)"/>
<path class="f" d="M357 413.4 L391 405 L388.6 422.4 L361 429 Q354 429 354 421 Q354.4 414 357 413.4Z"/>
<ellipse cx="358.6" cy="421" rx="4.4" ry="8" transform="rotate(-10 358.6 421)"/>
<ellipse cx="358.6" cy="421" rx="2.2" ry="4" transform="rotate(-10 358.6 421)"/>
<ellipse stroke-width="0.75" cx="358.6" cy="421" rx="1.2" ry="2" transform="rotate(-10 358.6 421)"/>
<path d="M368 419 L388 414.4 M368 422.4 L388 417.6 M368 419 Q366 421 368 422.4"/>
<ellipse stroke-width="0.75" cx="378.2" cy="391.2" rx="1" ry="1.6"/>
<ellipse stroke-width="0.75" cx="391.2" cy="386.8" rx="1" ry="1.6"/>
<ellipse stroke-width="0.75" cx="396.2" cy="391.8" rx="1" ry="1.6"/>
<ellipse stroke-width="0.75" cx="401.2" cy="400.6" rx="1" ry="1.8"/>
<ellipse stroke-width="0.75" cx="404.4" cy="426.4" rx="1" ry="1.8"/>
<ellipse stroke-width="0.75" cx="401" cy="438" rx="1" ry="1.6"/>
<ellipse stroke-width="0.75" cx="391.4" cy="438" rx="1" ry="1.6"/>
<ellipse stroke-width="0.75" cx="386" cy="432" rx="1" ry="1.6"/>
<path d="M378 428L383 438L391 444L403 449L426 460L435.5 466L435.5 472L440 478M383 438L386 440L386 443L391 444M426 460L427 457L428 462M429 462L435 464M476 373L486 377L497.5 389.9L507.5 408L510.5 420.5L510.5 465M458.8 383.6 Q470 393 476.2 404.2 L482.5 418 L483.1 471.8M466.2 383 Q476.2 390.5 482.5 401.8 L489.4 416.8 L490 469.9M466.2 383L485 377.4M473.8 389.2L491.9 384M480.6 398.6L500 393.6M489.4 416.8L510 411.1M467.5 393.6 Q474.4 405.5 480.6 418.6 L482.8 418"/>
<ellipse stroke-width="0.75" cx="502.8" cy="426.1" rx="2.8" ry="3"/>
<ellipse stroke-width="0.75" cx="502.8" cy="426.1" rx="1.2" ry="1.4"/>
<ellipse stroke-width="0.75" cx="479.4" cy="374.9" rx="2.5" ry="1.2" transform="rotate(20 479.4 374.9)"/>
<path d="M510 465L504 469L477 476L470 472M500 390 Q512 396 517 412M502.4 381.6 Q516 391 520 409M510 414 Q517 425 511 449M517 412 Q519 429 514 445M511 449L512 458L523 463L524 461L553.5 453L553.5 445M520 443L521 457L524 461M511 449L520 443M521 457L512 458"/>
<ellipse stroke-width="0.75" cx="530" cy="450" rx="2.8" ry="3"/>
<ellipse stroke-width="0.75" cx="540" cy="447.4" rx="2.8" ry="3"/>
<path d="M502.5 383.8L546.9 370L568.1 382.2L521.9 393.5L502.5 383.8M521.9 393.5L523.8 401.9L534.4 399.4M523.8 397.5L568.8 386.2M539.4 398.1L552.5 395M557.5 393.8L566.9 391.2M502.5 383.8L502.5 390L521.9 401.9L523.8 401.9M506.5 382.5L526.1 392.5M510.6 381.2L530.2 391.5M514.6 380L534.5 390.4M518.6 378.8L538.8 389.4M522.6 377.5L542.9 388.4M526.8 376.2L547.1 387.4M530.8 375L551.2 386.4M534.8 373.8L555.5 385.4M538.8 372.5L559.8 384.2M542.9 371.2L563.9 383.2M505.2 385.1L549.9 371.8M508 386.5L553 373.5M510.8 387.9L556 375.2M513.6 389.4L559 377M516.4 390.8L562 378.8M519.1 392.1L565.1 380.5M534.4 399.4 L534.4 395.2 Q536.5 392.5 539 394.8 L539.4 398.8M552.5 393.1 L552.5 389.6 Q554.8 386.9 557.2 389 L557.5 392.5M566.9 391.2 Q566.9 388.5 570 388.1 L573.1 387.8 Q575.2 388.1 575 391.9 Q574.4 394.8 571.2 395.2 Q567.5 395.2 566.9 391.2M533.8 402.5L562.5 395.6L565 398.1L536.9 405.6L533.8 402.5M536.9 403.1L538.1 404.8L543.1 403.5L541.9 401.9ZM545.6 401L546.9 402.6L551.9 401.4L550.6 399.8ZM554.4 398.9L555.6 400.5L560.6 399.2L559.4 397.6ZM528.8 410L530 442.5M528.8 419L575.6 406.5M529 422.5L576 410M529.1 426L576.1 413.5M529.2 429.5L576.2 417.1M529.5 433L576.2 420.8M529.6 436.5L576.2 424.4M529.8 440L576.2 428M530 442.5 Q535 447 540 445.2 L571.2 435 L571.9 436.2M576.5 405.6L576.5 430"/>
<ellipse stroke-width="0.75" cx="542.8" cy="416" rx="0.6" ry="0.6"/>
<ellipse stroke-width="0.75" cx="562.2" cy="410.2" rx="0.6" ry="0.6"/>
<ellipse stroke-width="0.75" cx="542.8" cy="430.6" rx="0.6" ry="0.6"/>
<ellipse stroke-width="0.75" cx="562.2" cy="425.6" rx="0.6" ry="0.6"/>
<path d="M518.8 407.5L522.5 406.2L528.8 410M518.8 407.5L520.6 443.1L526.2 445.2L530 442.5M522.5 406.2L523.8 444.4"/>
<ellipse stroke-width="0.75" cx="520.6" cy="413.1" rx="1" ry="1.1"/>
<ellipse stroke-width="0.75" cx="521" cy="442.5" rx="1" ry="1.1"/>
<path d="M547.5 369.4L551.9 365.6L560 363.1L569.4 369.4L580 378.8L588.1 392.5L588.8 430L581.9 436.2L576.2 437.5L571.9 436.2L571.2 432.5M551.9 365.6L575 381.9L578.8 393.8L579.4 432.5L576.2 437.5M575 381.9L580 378.8M578.8 393.8L588.1 392.5M579.4 432.5L588.8 430M570 370 Q574.4 368.5 577.5 368.8 Q592.5 375 597.5 396.2 L597.5 405 Q596.2 417.5 589.4 423.8"/>
</g>
<g id="m3">
<path class="w" d="M335 564.4L338 556L345 553L361 549L367 545L384 542L396 546L414 561L431 574L435 579L438 583L452 576L458 578L459.6 588L456 593.6L440 598L439 620L436 624L438 688.5L336.5 688.5L336.5 642L338 636Z"/>
<path class="w" d="M387 662.5L438.5 662.5L438.5 674L434 680L420 688L409 704L402 716L388 712L382 720L377 721L368 715L360.5 712L360.5 662Z"/>
<path class="w" d="M253 704L254 688L262 671L267 664L278 661L290 660L328 650L341 645L353 643L365 644L375 656L381.5 680L381.5 720L363 714L335 721L331 716L307 720L305 724L298 732L290 735L277 733L267 732L257 722Z"/>
<path class="w" d="M261.9 670.6L270 662.8L280 661.2L287.5 666.9L300 677.5L305 689.4L305.6 726.2L300 732.5L262.5 732.5L252.5 702.5Z"/>
<path class="f" d="M438 582 L452.4 576 Q459 577 459.2 585 Q459 592.4 456 593.2 L439.6 598Z"/>
<path d="M452.4 576 Q449 580 449.6 587 Q450.4 593 456 593.2M441 597L448 595"/>
<path class="f" d="M338 556L345 553L361 549L367 545L384 542L396 546L414 561L431 574L435 579L434 583L388 590L382 587L339 561Z"/>
<path d="M339.5 561L339.5 566L382 592.4L388 595.6L435.5 583.6L435.5 579M382.5 587L382.5 592.4M388.5 590L388.5 595.6"/>
<ellipse stroke-width="0.75" cx="341" cy="556" rx="2.2" ry="1.4"/>
<ellipse stroke-width="0.75" cx="362" cy="549" rx="2.2" ry="1.4"/>
<ellipse stroke-width="0.75" cx="384" cy="543" rx="2.2" ry="1.4"/>
<ellipse stroke-width="0.75" cx="399" cy="553.6" rx="2.2" ry="1.4"/>
<ellipse stroke-width="0.75" cx="414" cy="563" rx="2.2" ry="1.4"/>
<ellipse stroke-width="0.75" cx="429" cy="575" rx="2.2" ry="1.4"/>
<ellipse stroke-width="0.75" cx="408" cy="581" rx="2.2" ry="1.4"/>
<ellipse stroke-width="0.75" cx="387" cy="586.4" rx="2.2" ry="1.4"/>
<ellipse stroke-width="0.75" cx="372.4" cy="576" rx="2.2" ry="1.4"/>
<ellipse stroke-width="0.75" cx="357" cy="566" rx="2.2" ry="1.4"/>
<ellipse stroke-width="0.75" cx="406" cy="569" rx="2.2" ry="1.4"/>
<ellipse stroke-width="0.75" cx="387" cy="586.4" rx="1" ry="0.6"/>
<ellipse stroke-width="0.75" cx="408" cy="581" rx="1" ry="0.6"/>
<ellipse stroke-width="0.75" cx="372.4" cy="576" rx="1" ry="0.6"/>
<ellipse stroke-width="0.75" cx="357" cy="566" rx="1" ry="0.6"/>
<ellipse stroke-width="0.75" cx="406" cy="569" rx="1" ry="0.6"/>
<path d="M353 564L356 569L361 568M368.4 573.6L371.6 579L376.4 578M338.5 561L338.5 636L336 642"/>
<path class="f" d="M335 564.4L343.5 568.2L343.5 577.6L335 573.8Z"/>
<path d="M339.5 566L339.5 580M381 597L388 600L438 587M381.5 597L381.5 606L384 608M382 592.4L381 597M388.5 600L388.5 680M384 608L385 678"/>
<ellipse stroke-width="0.75" cx="390.4" cy="603.4" rx="2.2" ry="2.4"/>
<ellipse stroke-width="0.75" cx="433.6" cy="591.6" rx="2.2" ry="2.4"/>
<path d="M438 587L439 620L436 624L437 660M435 583.6L438 587M407.5 604L407.5 688M412.5 602.4L412.5 688M430.5 598L430.5 658M432.5 597.6L432.5 657.6M388 626L407.4 621M388 628.4L407.4 623.4M412.6 619.4L430 615M412.6 621.8L430 617.4M388 641.6L407.4 636.6M388 644L407.4 639M412.6 635L430.4 630.4M412.6 637.4L430.4 632.8M388 657.6L407.4 652.4M388 660L407.4 654.8M412.6 651L430.4 646.4M412.6 653.4L430.4 648.8M388 616L407.4 611M412.6 609.6L430 605.2"/>
<path class="f" d="M337.5 611.2L338.1 591.2L346.9 585.6L348.1 580.5L361.2 580.5L375.6 598.1L380.6 623.1L376.2 640.6L366.2 640L351.9 638.1L340 627.5Z"/>
<path d="M338.1 591.2L346.9 585.6L355.6 586.9L366.2 601.9L371.2 623.8L368.1 636.9L351.9 637.8M346.9 585.6L348.1 580.6M355.6 586.9L361.2 580.6M366.2 601.9L375.6 598.1M371.2 623.8L380.6 623.1M368.1 636.9L376.2 640.6M358.1 583.8L370.6 600L375.6 623.5L372.2 638.8"/>
<ellipse cx="351.9" cy="613.1" rx="12.5" ry="22.8" transform="rotate(-9 351.9 613.1)"/>
<ellipse stroke-width="0.75" cx="341.9" cy="633.8" rx="1.8" ry="2.8" transform="rotate(-10 341.9 633.8)"/>
<ellipse stroke-width="0.75" cx="341.9" cy="633.8" rx="0.9" ry="1.4" transform="rotate(-10 341.9 633.8)"/>
<ellipse stroke-width="0.75" cx="338.8" cy="604.4" rx="0.6" ry="1.1"/>
<ellipse stroke-width="0.75" cx="366.5" cy="622.5" rx="0.6" ry="1"/>
<ellipse stroke-width="0.75" cx="382.5" cy="611.2" rx="2.1" ry="3"/>
<ellipse stroke-width="0.75" cx="382.5" cy="611.2" rx="1" ry="1.5"/>
<path d="M387 674L438.5 662L438.5 674L434 680M388 687.6L438 674M387.5 672L387.5 686.5L383 686.5"/>
<ellipse stroke-width="0.75" cx="391" cy="681" rx="2.2" ry="2.4"/>
<ellipse stroke-width="0.75" cx="433.6" cy="669" rx="2.2" ry="2.4"/>
<path d="M432 656L438 662M388.5 687.6L388.5 712L382 720L377 721L368 715M388 700L409 692L420 688L434 680M409.5 680L409.5 704L402 716L388 712M383 686L382 712L377 721M342 645 Q359 639 370 649 Q380 668 381 688 Q381 708 368 715M347 648.4 Q362 647 370 668 Q376 690 366 712"/>
<ellipse stroke-width="0.75" cx="357" cy="651" rx="0.8" ry="1.2"/>
<ellipse stroke-width="0.75" cx="372" cy="689" rx="0.8" ry="1.4"/>
<path d="M354 661 L359 659 L364 668 L365 708 L361 714M359 659L360 667M359 667L364 668"/>
<ellipse stroke-width="0.75" cx="362" cy="669" rx="1" ry="1"/>
<path d="M290 660L328 650L347 662L303 673L290 660M303 673L305 680L353 667.6L347 662M290 660L291.4 666.4L305 680M293.8 659L307.4 671.8M297.6 658L311.8 670.6M301.4 657L316.2 669.6M305.2 656L320.6 668.4M309 655L325 667.4M312.8 654L329.4 666.2M316.6 653L333.8 665.2M320.4 652L338.2 664M324.2 651L342.6 663M292.2 662L330.6 651.6M294.4 664L333.2 653.2M296.6 666L335.8 654.8M298.8 668L338.4 656.4M301 670L341 658M302 671.6L344 660M314 680 L314 675.6 Q316 673 318 675 L318 678.8M334 674.4 L334 670.4 Q336 668 338 670 L338 673.6M329 650L333 646L341 645M333 646L353.5 660L353.5 667.6M341 645L357.5 657L357.5 676M353 660L357 657M355 672L360 670L361 676M354 673.6L355 678L357 680"/>
<ellipse stroke-width="0.75" cx="356" cy="674.4" rx="0.8" ry="0.8"/>
<path d="M305 681.2L305.6 691.2L330 688.1L357.5 682.5M305.6 691.2L306.9 726.2L331.2 720L330 688.1M306.5 695.6L330.1 692.5M306.6 700L330.4 696.9M306.6 704.4L330.5 701.2M306.8 708.8L330.6 705.6M306.8 713.1L330.8 710M306.9 717.5L331 714.4M306.9 721.9L331.1 718.5M331 688L360 682L363.5 686L363.5 714L335 721L331.5 716L331.5 688M329 685.6L331 688M357 680L360 682M333 692 Q335 689 339 692 L341 696 L342 719.6M341 696L362 691M333 692L334 718.4"/>
<ellipse stroke-width="0.75" cx="338" cy="682.4" rx="2.8" ry="1.6" transform="rotate(-10 338 682.4)"/>
<ellipse stroke-width="0.75" cx="348" cy="680" rx="2.8" ry="1.6" transform="rotate(-10 348 680)"/>
<ellipse stroke-width="0.75" cx="333" cy="690" rx="0.8" ry="0.8"/>
<ellipse stroke-width="0.75" cx="361.6" cy="712" rx="0.8" ry="0.8"/>
<path d="M261.9 670.6L270 662.8L280 661.2L287.5 666.9L300 677.5L305 689.4L305.6 726.2L300 732M270 662.8L276.9 666L286.2 675.6L293.1 686.9L298.5 695L298.5 727.5L293.1 731.2M298.1 695L305 689.4M298.1 727.5L305.6 726.2M276.9 666L280 661.2"/>
<ellipse stroke-width="0.75" cx="265.6" cy="668.8" rx="0.8" ry="0.8"/>
<ellipse stroke-width="0.75" cx="292.5" cy="686.9" rx="0.8" ry="0.8"/>
<ellipse stroke-width="0.75" cx="292.5" cy="730.2" rx="0.8" ry="0.8"/>
<path d="M275 666.9 Q292.5 681.2 296.9 710 L296.5 730M264.8 675L275 666.9M261.5 670.6L261.5 675.6"/>
<ellipse class="f" cx="268.8" cy="702.5" rx="15.8" ry="28.2" transform="rotate(-9 268.8 702.5)"/>
<ellipse stroke-width="0.75" cx="268.1" cy="703.1" rx="1.5" ry="2.8" transform="rotate(-9 268.1 703.1)"/>
</g>
<g id="top">
<text x="24" y="256.3">M6</text>
<text x="403" y="250.6">M1</text>
<text x="745.5" y="322.8">M2</text>
<text x="489" y="360.6">M5</text>
<text x="94.3" y="487.9">M4</text>
<text x="443.3" y="712.1">M3</text>
<path d="M67.5 127L170 97.7M67.5 127L67.5 350M514.5 117L632 195M649.5 206L649.5 432.5M535 590L387 630M323.5 647.5L333 645M385 151.4L397 148"/>
</g>
</svg>
</body></html>
